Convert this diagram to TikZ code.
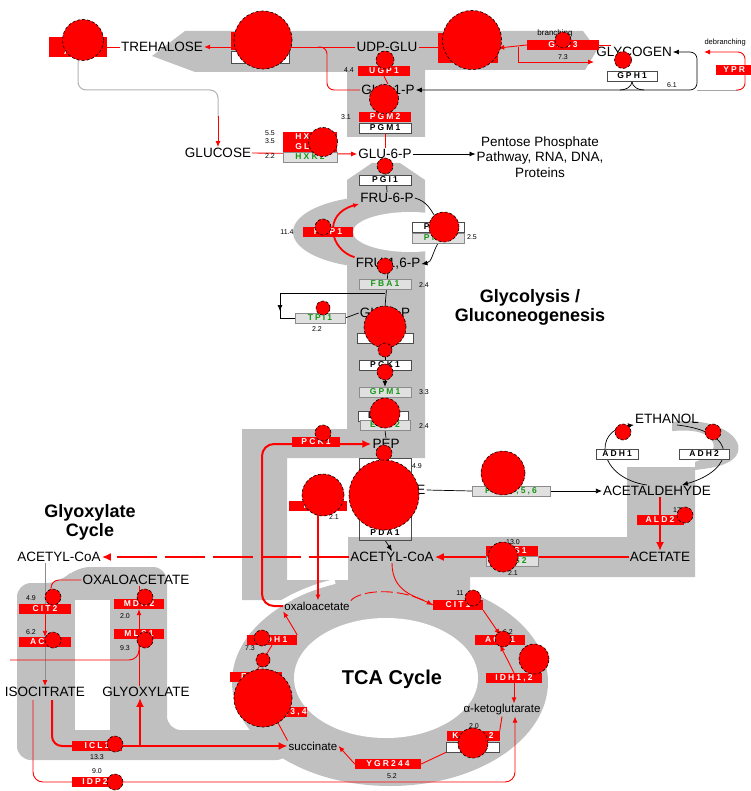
\documentclass[tikz,border=0pt]{standalone}
\usepackage{fontspec}
\setmainfont{Liberation Sans}
\usepackage{tikz}
\usetikzlibrary{positioning,arrows.meta}
\definecolor{bandgray}{RGB}{192,192,192}
\definecolor{enzgreen}{RGB}{20,150,20}
\pgfdeclarelayer{bands}
\pgfdeclarelayer{links}
\pgfsetlayers{bands,links,main}

\begin{document}
\begin{tikzpicture}[x=1pt,y=-1pt,>={Latex[length=6pt,width=5pt]},
	met/.style={font=\fontsize{13.5}{15.5}\selectfont,inner sep=1pt},
	small/.style={font=\fontsize{11.5}{13}\selectfont,inner sep=1pt},
	val/.style={font=\fontsize{7}{8}\selectfont,inner sep=0pt},
	head/.style={font=\bfseries\fontsize{18}{19}\selectfont,align=center},
	enz/.style={minimum height=10pt,inner sep=0pt,font=\bfseries\fontsize{8.5}{9}\selectfont\addfontfeature{LetterSpace=25}},
	redbox/.style={enz,fill=red,text=white},
	whitebox/.style={enz,fill=white,draw=black!70,line width=0.4pt},
	greenbox/.style={enz,fill=black!12,draw=black!45,line width=0.4pt,text=enzgreen},
	spot/.style={circle,fill=red,draw=black,densely dashed,line width=0.6pt,inner sep=0pt,minimum size=#1},
	band/.style={fill=bandgray},
	rline/.style={red,line width=0.9pt},
	rthick/.style={red,line width=2pt},
	kline/.style={black,line width=0.7pt},
	bigtip/.style={-{Latex[length=9pt,width=8pt]}}]
	\useasboundingbox (0,0) rectangle (750,791);
	% grey bands
	\begin{pgfonlayer}{bands}
		\fill[band] (185,31) -- (583,31) -- (597,50) -- (585,70) -- (425,70) -- (425,137) -- (347,137) -- (347,72) -- (195,72) -- (152,56) -- cycle;
		\fill[band] (372,163) -- (400,163) -- (425,180) -- (425,458) -- (287,458) -- (287,600) -- (242,600) -- (242,429) -- (347,429) -- (347,180) -- cycle;
		\begin{scope}
			\clip (0,0) rectangle (425,791);
			\fill[band] (380,232) ellipse [x radius=87,y radius=36];
		\end{scope}
		\fill[white] (410,232) ellipse [x radius=57,y radius=20];
		\fill[band] (627,467) -- (695,467) -- (695,577) -- (470,577) -- (470,600) -- (348,600) -- (348,537) -- (627,537) -- cycle;
		\fill[band] (672,422) .. controls (715,416) and (748,438) .. (736,456) .. controls (728,466) and (712,468) .. (695,470) -- (695,462) .. controls (712,456) and (720,446) .. (708,436) .. controls (698,430) and (686,430) .. (672,431) -- cycle;
		\fill[band] (242,580) rectangle (348,600);
		\fill[band,rounded corners=14pt] (17,583) -- (60,583) -- (76,567) -- (167,567) -- (167,730) -- (290,730) -- (290,760) -- (17,760) -- cycle;
		\fill[white] (75,600) rectangle (110,730);
		\draw[white,line width=5pt] plot[domain=165:250,samples=30] ({390+161*cos(\x)},{682+107*sin(\x)});
		\fill[band] (390,682) ellipse [x radius=158,y radius=104];
		\fill[white] (386,678) ellipse [x radius=92,y radius=60];
	\end{pgfonlayer}
	% metabolites
	\foreach \nm/\x/\y/\txt in {treh/162/47/TREHALOSE, udpglu/387/47/UDP-GLU, glycogen/634/52/GLYCOGEN,
		g1p/388/90/GLC-1-P, glucose/218/153/GLUCOSE, g6p/385/154/GLU-6-P, f6p/387/198/FRU-6-P,
		fbp/388/264/{FRU-1,6-P}, g3p/385/313/GLY-3-P, pep/386/444/PEP, pyr/390/490/PYRUVATE,
		ethanol/667/419/ETHANOL, acald/657/491/ACETALDEHYDE, acetate/660/557/ACETATE,
		accoa/392/557/ACETYL-CoA, accoag/59/557/ACETYL-CoA, oaag/136/580/OXALOACETATE, glyox/146/692/GLYOXYLATE}
		\node[met] (\nm) at (\x,\y) {\txt};
	\node[met,anchor=east] (isocit) at (86,692) {ISOCITRATE};
	\node[small] (oaa) at (317,606) {oxaloacetate};
	\node[small] (akg) at (502,710) {α-ketoglutarate};
	\node[small] (succ) at (313,746) {succinate};
	\node[met,align=center] (pentose) at (540,157) {Pentose Phosphate\\Pathway, RNA, DNA,\\Proteins};
	\node[head] (glycohead) at (530,307) {Glycolysis /\\Gluconeogenesis};
	\node[head] (glyhead) at (90,522) {Glyoxylate\\Cycle};
	\node[head,font=\bfseries\fontsize{20}{22}\selectfont] (tcahead) at (392,679) {TCA Cycle};
	\node[font=\fontsize{8}{9}\selectfont] (branch) at (555,33) {branching};
	\node[font=\fontsize{7.5}{9}\selectfont,anchor=west] (debranch) at (701,43) {debranching};
	% enzymes
	\node[redbox,minimum width=60,minimum height=30] (gsy) at (468,48) {GSY2};
	\node[redbox,minimum width=58,minimum height=18] (tps1) at (260,41) {TPS1};
	\node[whitebox,minimum width=58,minimum height=12] (tps2) at (260,57) {TPS2};
	\node[redbox,minimum width=36,anchor=west] (ypr) at (716,70) {YPR};
	\node[draw=black!70,minimum width=52,minimum height=82,inner sep=0pt] (pdabox) at (385,499) {};
	\node[enz] (pda1) at (385,533) {PDA1};
	\foreach \nm/\x/\y/\w/\txt in {nth/78/42/58/NTH1, ath/78/52/58/ATH1, glc3/563/45/72/GLC3, ugp1/384/71/52/UGP1,
		pgm2/385/117/52/PGM2, hxk1/310/137/54/HXK1, glk1/310/147/54/GLK1, fbp1/328/232/50/FBP1,
		pck1/316/442/48/PCK1, pyc1/318/506/58/PYC1, ald/660/520/47/ALD2, acs1/512/551/52/ACS1,
		cit2/45/609/52/CIT2, aco1g/45/642/52/ACO1, mdh2/139/604/50/MDH2, mls1/139/634/50/MLS1,
		icl1/97/746/50/ICL1, idp2/95/782/46/IDP2, cit1/458/605/50/CIT1, aco1t/500/640/50/ACO1,
		idh/514/678/56/{IDH1,2}, kgd/473/736/53/{KGD1,2}, ygr/388/764/66/YGR244, mdh1/272/640/50/MDH1,
		fum1/256/677/52/FUM1, sdh/275/712/60/{SDH1,2,3,4}}
		\node[redbox,minimum width=\w] (\nm) at (\x,\y) {\txt};
	\foreach \nm/\x/\y/\w/\txt in {gph1/632/76/50/GPH1, pgm1/385/128/52/PGM1, pgi1/385/180/52/PGI1,
		pfk1/438/227/52/PFK1, tdh/385/338/56/TDH3, pgk1/385/365/52/PGK1, eno1/383/416/50/ENO1,
		adh1/617/454/42/ADH1, adh2/704/454/50/ADH2, kgdw/473/747/53/KGD2}
		\node[whitebox,minimum width=\w] (\nm) at (\x,\y) {\txt};
	\foreach \nm/\x/\y/\w/\txt in {hxk2/310/157/54/HXK2, pfk2/438/238/52/PFK2, fba1/385/284/52/FBA1,
		tpi1/320/318/50/TPI1, gpm1/385/392/52/GPM1, eno2/385/425/50/ENO2, pdc/511/491/78/{PDC1,5,6},
		acs2/512/561/52/ACS2}
		\node[greenbox,minimum width=\w] (\nm) at (\x,\y) {\txt};
	% fold changes
	\foreach \nm/\x/\y/\txt in {vugp/349/70/4.4, vpgm/346/117/3.1, vhxk/270/133/5.5, vglk/270/141/3.5,
		vhxkb/270/156/2.2, vglc/563/57/7.3, vgph/672/85/6.1, vfbp/287/232/11.4, vpfk/472/237/2.5,
		vfba/424/285/2.4, vtpi/317/329/2.2, vgpm/424/392/3.3, veno/424/426/2.4, vpda/417/466/4.9,
		vpyc/334/517/2.1, vacs/513/542/13.0, vacsb/513/573/2.1, vald/677/510/17, vcit/31/598/4.9,
		vacog/31/632/6.2, vmdh/125/616/2.0, vmls/125/648/9.3, vicl/97/757/13.3, vidp/97/771/9.0,
		vcitt/460/593/11, vacot/508/632/6.2, vkgd/474/726/2.0, vygr/392/776/5.2, vmdht/250/648/7.3}
		\node[val] (\nm) at (\x,\y) {\txt};
	% expression spots
	\foreach \nm/\x/\y/\d in {dnth/83/40/41, dtps/263/40/58, dgsy/472/40/59, dglc/563/40/16, dugp/385/60/18,
		dpgm/384/99/29, dgph/623/60/17, dhxk/323/142/29, dpgi/385/166/16, dfbp/323/227/16, dpfk/444/227/30,
		dfba/385/266/16, dtpi/323/308/14, dtdh/385/327/42, dtdhb/385/350/14, dpgk/385/372/16, deno/385/413/30,
		dpck/323/433/16, dpep/384/453/16, dpda/384/495/70, dpyc/323/495/42, dpdc/503/473/44,
		dadh/623/432/16, dadhb/713/432/16, dald/685/515/16, dacs/503/557/30, dcit/53/597/16,
		dacog/53/640/16, dmdh/145/597/16, dmls/145/640/16, dicl/115/744/16, didp/115/782/16,
		dcitt/473/598/16, dacot/503/639/16, didh/534/659/30, dkgd/473/743/30, dmdht/262/638/16,
		dfum/263/660/14, dsdh/263/698/58}
		\node[spot=\d] (\nm) at (\x,\y) {};
	% connectors
	\begin{pgfonlayer}{links}
		% trehalose and glycogen
		\draw[rline,->] (udpglu.west) -- (treh.east);
		\draw[rline] (treh.west) -- (nth.east |- treh.west);
		\coordinate (trejoin) at (318,47);
		\draw[rline,rounded corners=7pt] (trejoin) -| (327,90) -- (g1p.west);
		\draw[black!30,line width=1pt,rounded corners=8pt] (ath.south) |- (218,90) -- (218,118);
		\draw[rline,->] (218,116) -- (glucose.north);
		\draw[rline] (udpglu.east) -- (gsy.west |- udpglu.east);
		\draw[rline,<-] (gsy.east) -- (glc3.west);
		\draw[rline] (glc3.east) -- ++(12,0);
		\coordinate (gsyout) at (518,47);
		\coordinate (glyin) at (594,62);
		\draw[rline,->] (gsyout) |- (glyin);
		\coordinate (gphturn) at (697,52);
		\draw[kline,<->,rounded corners=7pt] (glycogen.east) -- (gphturn) -- (697,90) -- (g1p.east);
		\draw[kline] (620,90) to[out=0,in=-90] (gph1.south) to[out=-90,in=180] (644,90);
		\draw[black!35,line width=0.8pt] (697,90) -- (738,90);
		\draw[rline,->,rounded corners=7pt] (736,90) -- (745,90) -- (745,52) -- (704,52);
		% glucose
		\draw[rline,->] (glucose.east) -- (g6p.west);
		\draw[rline] (udpglu.south) -- (ugp1.north);
		\draw[rline] (ugp1.south) -- (g1p.north);
		\draw[rline] (g1p.south) -- (pgm2.north);
		\draw[rline] (pgm1.south) -- (g6p.north);
		\draw[kline,->] (g6p.east) -- (g6p.east -| pentose.west);
		% glycolysis
		\draw[kline] (g6p.south) -- (f6p.north);
		\draw[kline] (f6p.east) to[out=-15,in=120] (pfk1.north);
		\draw[kline,->] (pfk2.south) to[out=-120,in=10] (fbp.east);
		\draw[red,line width=1.8pt,->] (fbp.north west) .. controls (330,250) and (322,214) .. (f6p.south west);
		\draw[kline] (fbp.south) -- (g3p.north);
		\coordinate (fbasplit) at (385,293);
		\draw[kline] (fbasplit) -- (280,293) -- (280,318) -- (tpi1.west);
		\draw[kline,->] (280,293) -- (280,311);
		\draw[kline] (tpi1.east) -- (g3p.west);
		\draw[kline] (g3p.south) -- (pgk1.north);
		\draw[kline,->] (pgk1.south) -- (gpm1.north);
		\draw[kline] (gpm1.south) -- (eno1.north);
		\draw[kline] (eno2.south) -- (pep.north);
		\draw[kline] (pep.south) -- (pdabox.north);
		\draw[kline,->] (pdabox.south) -- (accoa.north);
		% PCK1 and PYC1
		\draw[rthick,bigtip,rounded corners=12pt] (oaa.west) -| (262,444) -- (pep.west);
		\draw[red,line width=1.3pt,->] (pyc1.south) -- (pyc1.south |- oaa.north);
		% fermentation
		\draw[kline] (pyr.east) -- (pdc.west);
		\draw[kline,->] (pdc.east) -- (acald.west);
		\draw[kline,->] ([xshift=-10pt]acald.north) .. controls (598,478) and (592,430) .. (ethanol.south west);
		\draw[kline,->] ([xshift=10pt]ethanol.south) .. controls (740,432) and (735,470) .. ([xshift=25pt]acald.north);
		\draw[rthick,bigtip] (ald.north |- acald.south) -- (ald.south |- acetate.north);
		\draw[rthick,bigtip] (acetate.west) -- (accoa.east);
		\draw[rthick,bigtip,dash pattern=on 40pt off 8pt] (accoa.west) -- (accoag.east);
		% TCA cycle
		\draw[rline,->] (accoa.south) .. controls (392,592) and (415,596) .. (cit1.west);
		\draw[rline,dash pattern=on 12pt off 4pt] (oaa.north east) .. controls (360,590) and (400,586) .. (cit1.west);
		\draw[rline,->] (cit1.south east) -- (aco1t.north);
		\draw[rline,->] (idh.north) -- (aco1t.south);
		\draw[rline,->] (idh.south) -- (idh.south |- akg.north);
		\draw[rline] (akg.south) -- (kgd.north east);
		\draw[rline] (kgdw.south west) -- (ygr.east);
		\draw[rline,->] (ygr.west) -- (succ.east);
		\draw[rline] (succ.north west) -- (sdh.south);
		\draw[rline] (sdh.north) -- (fum1.south);
		\draw[rline] (fum1.north) -- (mdh1.south);
		\draw[rline,->] (mdh1.north east) -- (oaa.south west);
		% glyoxylate cycle
		\draw[black!45,line width=0.8pt] (cit2.north |- accoag.south) -- (cit2.north);
		\draw[rline,rounded corners=8pt] (oaag.west) -| ([xshift=6pt]cit2.north);
		\draw[rline,->] (cit2.south) -- (aco1g.north);
		\draw[black!45,line width=0.8pt,-{Latex[color=red,length=6pt,width=5pt]}] (aco1g.south) -- (aco1g.south |- isocit.north);
		\coordinate (idpin) at (33,700);
		\draw[rline,rounded corners=10pt] (idpin) |- (idp2.west);
		\draw[rline,->,rounded corners=10pt] (idp2.east) -| ([xshift=13pt]akg.south);
		\coordinate (iclin) at (52,700);
		\draw[rthick,rounded corners=10pt] (iclin) |- (icl1.west);
		\draw[rthick,bigtip] (icl1.east) -- (succ.west);
		\coordinate (iclup) at (140,746);
		\draw[rthick,bigtip] (iclup) -- (iclup |- glyox.south);
		\draw[rline] (glyox.north -| mls1.south) -- (mls1.south);
		\draw[rline,->] (mls1.north) -- (mdh2.south);
		\draw[rline] (mdh2.north) -- (mdh2.north |- oaag.south);
		\coordinate (acin) at (10,660);
		\draw[rline,rounded corners=10pt] (acin) -| (mls1.south);
	\end{pgfonlayer}
\end{tikzpicture}
\end{document}
